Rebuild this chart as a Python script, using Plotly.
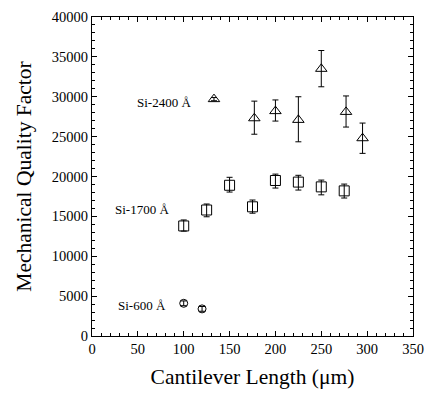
import plotly.graph_objects as go

# Si-2400 Å (triangles)
x2400 = [133, 177, 200, 225, 250, 277, 295]
y2400 = [29700, 27300, 28200, 27100, 33500, 28100, 24800]
e2400_up = [200, 2150, 1400, 2900, 2300, 2000, 1900]
e2400_dn = [200, 2000, 1250, 2750, 2250, 1900, 1900]

# Si-1700 Å (squares)
x1700 = [100, 125, 150, 175, 200, 225, 250, 275]
y1700 = [13800, 15800, 18900, 16200, 19500, 19300, 18700, 18200]
e1700_up = [750, 750, 1000, 850, 800, 850, 850, 850]
e1700_dn = [650, 850, 850, 800, 950, 1000, 1000, 900]

# Si-600 Å (circles)
x600 = [100, 120]
y600 = [4100, 3400]
e600 = [300, 300]

labels = ["Si-2400 Å", "Si-1700 Å", "Si-600 Å"]
label_x = [110, 86, 83]
label_y = [29300, 15900, 3800]

font = "Liberation Serif"
fig = go.Figure()

def add(x, y, up, dn, sym, size):
    fig.add_trace(go.Scatter(
        x=x, y=y, mode="markers",
        marker=dict(symbol=sym, size=size, color="black",
                    line=dict(color="black", width=1)),
        error_y=dict(type="data", array=up, arrayminus=dn, symmetric=False,
                     color="black", thickness=1, width=3),
        showlegend=False))

add(x2400, y2400, e2400_up, e2400_dn, "triangle-up-open", 10)
add(x1700, y1700, e1700_up, e1700_dn, "square-open", 10)
add(x600, y600, e600, e600, "circle-open", 8)

for t, lx, ly in zip(labels, label_x, label_y):
    fig.add_annotation(x=lx, y=ly, text=t, showarrow=False, xanchor="right",
                       yanchor="middle", font=dict(family=font, size=13, color="black"))

axis_common = dict(showgrid=False, zeroline=False, showline=True, linecolor="black",
                   linewidth=1, mirror="ticks", ticks="inside", ticklen=5,
                   tickcolor="black", tickformat="d", automargin=False,
                   tickfont=dict(family=font, size=14.5, color="black"))

fig.update_xaxes(range=[0, 350], dtick=50, tick0=0,
                 minor=dict(dtick=10, ticks="inside", ticklen=3, tickcolor="black"),
                 title=dict(text="Cantilever Length (μm)", font=dict(family=font, size=21.5, color="black"),
                            standoff=12),
                 **axis_common)
fig.update_yaxes(range=[0, 40000], dtick=5000, tick0=0,
                 minor=dict(dtick=1000, ticks="inside", ticklen=3, tickcolor="black"),
                 title=dict(text="Mechanical Quality Factor", font=dict(family=font, size=21.5, color="black"),
                            standoff=14),
                 **axis_common)

fig.update_layout(width=426, height=393, margin=dict(l=92, r=13, t=17, b=57),
                  plot_bgcolor="white", paper_bgcolor="white")

fig.write_html("out.html")
